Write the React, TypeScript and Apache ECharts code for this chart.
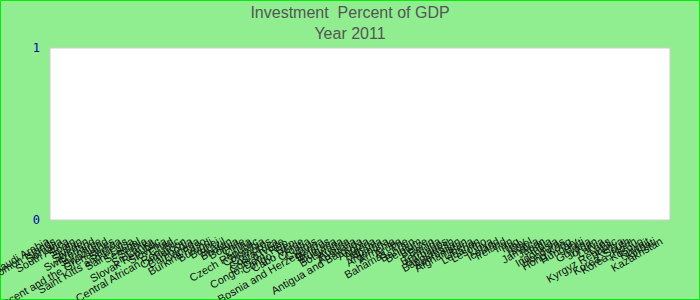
import React, { useEffect, useRef } from "react";
import * as echarts from "echarts";

const countries: string[] = [
  "Saudi Arabia", "Solomon Islands", "Somalia", "South Africa", "Spain", "Sudan", "Sweden",
  "Switzerland", "Suriname", "Swaziland", "Saint Vincent and the Grenadines", "Samoa",
  "Saint Kitts and Nevis", "Saint Lucia", "Senegal", "Serbia", "Sri Lanka", "Slovak Republic",
  "Slovenia", "Chad", "Central African Republic", "Cameroon", "Cambodia", "Canada",
  "Burkina Faso", "Burundi", "Brunei", "Brazil", "Bhutan", "Bolivia", "Chile", "China",
  "Czech Republic", "Colombia", "Comoros", "Costa Rica", "Cote d'Ivoire", "Congo, Dem. Rep.",
  "Congo, Rep.", "Cabo Verde", "Croatia", "Cyprus", "Bosnia and Herzegovina", "Belarus",
  "Bulgaria", "Botswana", "Austria", "Australia", "Antigua and Barbuda", "Angola", "Algeria",
  "Albania", "Argentina", "Armenia", "Aruba", "Bahamas, The", "Bahrain", "Belgium", "Belize",
  "Benin", "Bermuda", "Barbados", "Bangladesh", "Azerbaijan", "Afghanistan", "Liberia",
  "Lebanon", "Lesotho", "Libya", "Iceland", "Ireland", "Iran", "Iraq", "Italy", "Israel",
  "Jamaica", "Japan", "India", "Indonesia", "Honduras", "Hong Kong", "Hungary", "Haiti",
  "Guyana", "Jordan", "Latvia", "Laos", "Kyrgyz Republic", "Kenya", "Korea, South",
  "Korea, North", "Kosovo", "Kuwait", "Kiribati", "Kazakhstan",
];

const investmentValues: number[] = [
  0, 0, 0, 0, 0, 0, 0, 0, 0, 0, 0, 0, 0, 0, 0, 0, 0, 0, 0, 0,
  0, 0, 0, 0, 0, 0, 0, 0, 0, 0, 0, 0, 0, 0, 0, 0, 0, 0, 0, 0,
  0, 0, 0, 0, 0, 0, 0, 0, 0, 0, 0, 0, 0, 0, 0, 0, 0, 0, 0, 0,
  0, 0, 0, 0, 0, 0, 0, 0, 0, 0, 0, 0, 0, 0, 0, 0, 0, 0, 0, 0,
  0, 0, 0, 0, 0, 0, 0, 0, 0, 0, 0, 0, 0, 0, 0,
];

const titleLines: string[] = ["Investment  Percent of GDP", "Year 2011"];

export default function App() {
  const ref = useRef<HTMLDivElement>(null);

  useEffect(() => {
    if (!ref.current) return;
    const chart = echarts.init(ref.current, null, { renderer: "svg" });
    chart.setOption({
      animation: false,
      backgroundColor: "#90EE90",
      title: {
        text: titleLines.join("\n"),
        left: "center",
        top: 2,
        padding: 0,
        textStyle: {
          fontFamily: "Liberation Sans, Arial, sans-serif",
          fontSize: 16,
          fontWeight: "normal",
          color: "#555555",
          lineHeight: 21,
        },
      },
      graphic: [
        {
          type: "rect",
          silent: true,
          shape: { x: 0.5, y: 0.5, width: 699, height: 299 },
          style: { fill: "none", stroke: "#00EE00", lineWidth: 1 },
        },
      ],
      grid: {
        left: 50,
        right: 30,
        top: 48,
        bottom: 80,
        containLabel: false,
        outerBoundsMode: "none",
        show: true,
        backgroundColor: "#ffffff",
        borderColor: "#cccccc",
        borderWidth: 1,
      },
      xAxis: {
        type: "category",
        data: countries,
        boundaryGap: true,
        axisLine: { show: false },
        axisTick: { show: false },
        axisLabel: {
          interval: 0,
          rotate: 30,
          margin: 17,
          padding: [0, 6, 0, 0],
          fontSize: 11,
          color: "#111111",
          fontFamily: "Liberation Sans, Arial, sans-serif",
        },
      },
      yAxis: {
        type: "value",
        min: 0,
        max: 1,
        interval: 1,
        axisLine: { show: false },
        axisTick: { show: false },
        splitLine: { show: false },
        axisLabel: {
          margin: 10,
          fontSize: 12,
          color: "#0000AA",
          fontFamily: "DejaVu Sans Mono, monospace",
        },
      },
      series: [
        {
          type: "bar",
          name: "Investment",
          data: investmentValues,
          itemStyle: { color: "#4472C4" },
        },
      ],
    });
    return () => chart.dispose();
  }, []);

  return (
    <div
      ref={ref}
      style={{ position: "absolute", left: 0, top: 0, width: 700, height: 300 }}
    />
  );
}
